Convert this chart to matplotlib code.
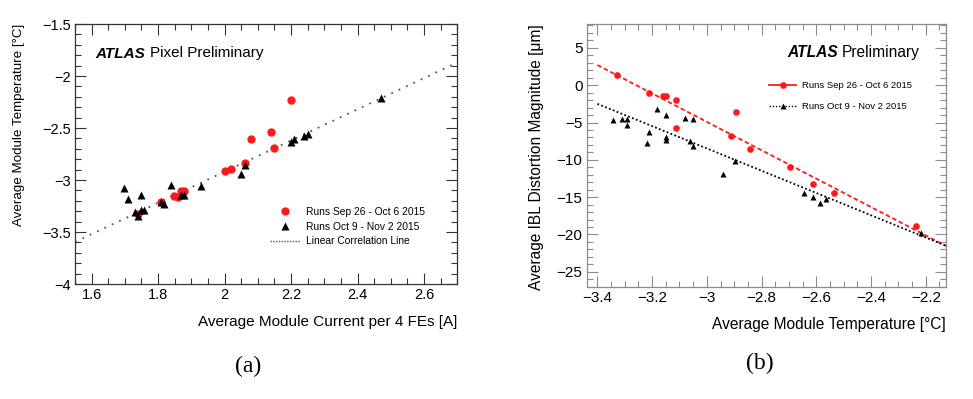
import numpy as np
import matplotlib.pyplot as plt
from matplotlib.ticker import MultipleLocator, FuncFormatter
from matplotlib.lines import Line2D

plt.rcParams['font.family'] = ['Liberation Sans', 'DejaVu Sans']

# (a) module current vs temperature
cur_sep = [1.741, 1.809, 1.849, 1.859, 1.869, 1.879, 2.000, 2.020, 2.060, 2.080, 2.140, 2.150, 2.200]
temp_sep = [-3.33, -3.21, -3.15, -3.165, -3.11, -3.11, -2.91, -2.89, -2.84, -2.61, -2.535, -2.69, -2.23]
cur_oct = [1.698, 1.709, 1.729, 1.741, 1.749, 1.749, 1.759, 1.810, 1.819, 1.839, 1.869, 1.879,
           1.929, 2.050, 2.060, 2.200, 2.210, 2.240, 2.250, 2.470]
temp_oct = [-3.08, -3.18, -3.31, -3.345, -3.148, -3.29, -3.29, -3.21, -3.226, -3.045, -3.148, -3.148,
            -3.055, -2.94, -2.86, -2.63, -2.61, -2.577, -2.558, -2.208]
corr_slope, corr_icpt = 1.50, -5.92

# (b) temperature vs IBL distortion
t_sep = [-3.327, -3.212, -3.160, -3.148, -3.112, -3.112, -2.912, -2.892, -2.843, -2.695, -2.613, -2.534, -2.236]
dist_sep = [1.34, -0.98, -1.47, -1.43, -1.96, -5.67, -6.83, -3.62, -8.53, -10.98, -13.26, -14.42, -18.84]
t_oct = [-3.342, -3.309, -3.291, -3.291, -3.220, -3.212, -3.181, -3.151, -3.151, -3.151, -3.080, -3.062,
         -3.051, -3.051, -2.942, -2.898, -2.645, -2.613, -2.585, -2.565, -2.217]
dist_oct = [-4.6, -4.51, -4.51, -5.31, -7.68, -6.21, -3.17, -4.02, -6.92, -7.28, -4.375, -7.5,
            -8.125, -4.51, -11.92, -10.13, -14.5, -15.04, -15.76, -15.22, -19.87]
fit_range = [-3.40, -2.125]
fit_sep = (-19.03, -62.0)
fit_oct = (-14.93, -53.26)

RED = '#ff1a1a'
W, H = 973, 399


def fmt(v, _):
    return f'{v:g}'.replace('-', '\u2212')


def style(ax, col, xmaj, xmin, ymaj, ymin, fs):
    ax.xaxis.set_major_locator(MultipleLocator(xmaj))
    ax.xaxis.set_minor_locator(MultipleLocator(xmin))
    ax.yaxis.set_major_locator(MultipleLocator(ymaj))
    ax.yaxis.set_minor_locator(MultipleLocator(ymin))
    ax.xaxis.set_major_formatter(FuncFormatter(fmt))
    ax.yaxis.set_major_formatter(FuncFormatter(fmt))
    ax.tick_params(which='both', direction='in', top=True, right=True, color=col, width=0.8,
                   labelsize=fs)
    ax.tick_params(which='major', length=8, pad=3)
    ax.tick_params(which='minor', length=4)
    for s in ax.spines.values():
        s.set_color(col)
        s.set_linewidth(0.9)


fig = plt.figure(figsize=(W / 100, H / 100), dpi=100)

# ---- panel (a)
ax1 = fig.add_axes([75 / W, 1 - 284 / H, (457.3 - 75) / W, 260 / H])
ax1.set_xlim(1.55, 2.7)
ax1.set_ylim(-4, -1.5)
style(ax1, '#333333', 0.2, 0.05, 0.5, 0.1, 10.5)
ax1.axline((0, corr_icpt), slope=corr_slope, color='#555555', lw=1.3, ls=(0, (1, 3.5)))
ax1.plot(cur_sep, temp_sep, 'o', color=RED, ms=6, mec='none')
ax1.plot(cur_oct, temp_oct, '^', color='black', ms=5.5, mec='none')
ax1.set_xlabel('Average Module Current per 4 FEs [A]', fontsize=11, loc='right')
ax1.set_ylabel('Average Module Temperature [°C]', fontsize=9.6, loc='top')
ax1.xaxis.set_label_coords(1.0, -0.118)
ax1.yaxis.set_label_coords(-0.13, 1.0)

h1 = [Line2D([], [], ls='none', marker='o', color=RED, ms=6, mec='none'),
      Line2D([], [], ls='none', marker='^', color='black', ms=5.5, mec='none'),
      Line2D([], [], color='#555555', lw=1.0, ls=(0, (1, 1)))]
ax1.legend(h1, ['Runs Sep 26 - Oct 6 2015', 'Runs Oct 9 - Nov 2 2015', 'Linear Correlation Line'],
           loc='upper left', bbox_to_anchor=(0.509, 0.296), frameon=False, fontsize=7.4,
           handlelength=3.0, handletextpad=0.55, labelspacing=0.45, borderpad=0, borderaxespad=0)

t1 = ax1.text(95 / W, 1 - 57.5 / H, 'ATLAS', transform=fig.transFigure, fontsize=11,
              fontweight='bold', fontstyle='italic', va='baseline')
ax1.annotate('Pixel Preliminary', xy=(1, 0), xycoords=t1, xytext=(3.6, 0),
             textcoords='offset points', fontsize=11, va='bottom')

# ---- panel (b)
ax2 = fig.add_axes([586.7 / W, 1 - 286.7 / H, (946 - 586.7) / W, (286.7 - 24) / H])
ax2.set_xlim(-3.439, -2.126)
ax2.set_ylim(-27, 8.2)
style(ax2, '#8c8c8c', 0.2, 0.05, 5, 1, 11)
ax2.tick_params(labelcolor='black')
fx = np.array(fit_range)
ax2.plot(fx, fit_sep[0] * fx + fit_sep[1], color=RED, lw=1.3, ls=(0, (2.5, 1.5)))
ax2.plot(fx, fit_oct[0] * fx + fit_oct[1], color='black', lw=1.3, ls=(0, (1, 1.3)))
ax2.plot(t_sep, dist_sep, 'o', color=RED, ms=4.8, mec='none')
ax2.plot(t_oct, dist_oct, '^', color='black', ms=4.2, mec='none')
ax2.set_xlabel('Average Module Temperature [°C]', fontsize=11.2, loc='right')
ax2.set_ylabel('Average IBL Distortion Magnitude [μm]', fontsize=11.2, loc='top')
ax2.xaxis.set_label_coords(1.0, -0.115)
ax2.yaxis.set_label_coords(-0.12, 1.0)

h2 = [Line2D([], [], color=RED, lw=1.3, marker='o', ms=4.8, mec='none'),
      Line2D([], [], color='black', lw=1.0, ls=(0, (1, 1.3)), marker='^', ms=4.2, mec='none')]
ax2.legend(h2, ['Runs Sep 26 - Oct 6 2015', 'Runs Oct 9 - Nov 2 2015'],
           loc='upper left', bbox_to_anchor=(0.507, 0.783), frameon=False, fontsize=6.8,
           handlelength=2.9, handletextpad=0.6, labelspacing=1.3, borderpad=0, borderaxespad=0)

t2 = ax2.text(787 / W, 1 - 57 / H, 'ATLAS', transform=fig.transFigure, fontsize=11.2,
              fontweight='bold', fontstyle='italic', va='baseline')
ax2.annotate('Preliminary', xy=(1, 0), xycoords=t2, xytext=(2.6, 0),
             textcoords='offset points', fontsize=11.2, va='bottom')

fig.text(248 / W, 1 - 366 / H, '(a)', fontsize=17, family='Liberation Serif', ha='center', va='center')
fig.text(760 / W, 1 - 363 / H, '(b)', fontsize=17, family='Liberation Serif', ha='center', va='center')

fig.savefig('out.png', dpi=100)
